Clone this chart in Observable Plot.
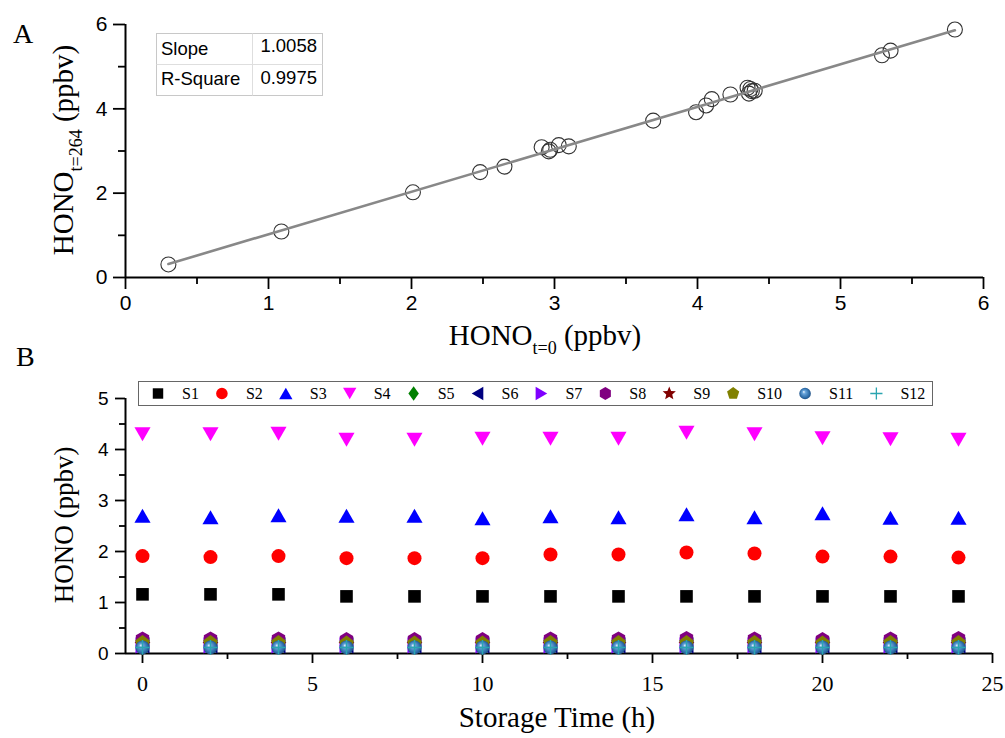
<!DOCTYPE html>
<html><head><meta charset="utf-8">
<script src="https://cdn.jsdelivr.net/npm/d3@7"></script>
<script src="https://cdn.jsdelivr.net/npm/@observablehq/plot@0.6"></script>
<style>
body{margin:0;background:#fff;}
#fig{position:relative;width:1005px;height:738px;overflow:hidden;background:#fff;}
#fig > svg{position:absolute;left:0;}
</style></head>
<body>
<svg width="0" height="0" style="position:absolute">
  <defs>
    <radialGradient id="sph" cx="0.5" cy="0.5" r="0.55" fx="0.38" fy="0.35">
      <stop offset="0" stop-color="#f2f8ff"/>
      <stop offset="0.25" stop-color="#6aa6dc"/>
      <stop offset="0.75" stop-color="#2b6aa6"/>
      <stop offset="1" stop-color="#1c4677"/>
    </radialGradient>
  </defs>
</svg>
<div id="fig"></div>
<script>
// ---------- Panel A data ----------
const hono0   = [0.30, 1.09, 2.01, 2.48, 2.65, 2.91, 2.96, 2.97, 3.03, 3.10, 3.69, 3.99, 4.06, 4.10, 4.23, 4.35, 4.37, 4.38, 4.36, 4.40, 5.29, 5.35, 5.80];
const hono264 = [0.31, 1.09, 2.02, 2.50, 2.63, 3.09, 2.99, 3.03, 3.14, 3.11, 3.72, 3.92, 4.08, 4.23, 4.34, 4.50, 4.47, 4.42, 4.36, 4.43, 5.27, 5.38, 5.88];
const fitLabels = ["Slope", "R-Square"];
const fitValues = ["1.0058", "0.9975"];

// ---------- Panel B data ----------
const time = [0, 2, 4, 6, 8, 10, 12, 14, 16, 18, 20, 22, 24];
const seriesNames = ["S1","S2","S3","S4","S5","S6","S7","S8","S9","S10","S11","S12"];
const s1  = [1.16, 1.16, 1.16, 1.12, 1.12, 1.12, 1.12, 1.12, 1.12, 1.12, 1.12, 1.12, 1.12];
const s2  = [1.91, 1.89, 1.91, 1.87, 1.87, 1.87, 1.94, 1.94, 1.98, 1.96, 1.90, 1.90, 1.88];
const s3  = [2.70, 2.67, 2.71, 2.70, 2.70, 2.65, 2.69, 2.67, 2.73, 2.67, 2.75, 2.66, 2.66];
const s4  = [4.30, 4.30, 4.31, 4.19, 4.19, 4.21, 4.21, 4.21, 4.33, 4.30, 4.22, 4.20, 4.19];
const s5  = [0.16, 0.16, 0.16, 0.16, 0.16, 0.16, 0.16, 0.16, 0.16, 0.16, 0.16, 0.16, 0.16];
const s6  = [0.16, 0.16, 0.16, 0.16, 0.16, 0.16, 0.16, 0.16, 0.16, 0.16, 0.16, 0.16, 0.16];
const s7  = [0.16, 0.16, 0.16, 0.16, 0.16, 0.16, 0.16, 0.16, 0.16, 0.16, 0.16, 0.16, 0.16];
const s8  = [0.28, 0.28, 0.28, 0.27, 0.27, 0.27, 0.28, 0.28, 0.29, 0.28, 0.27, 0.28, 0.29];
const s9  = [0.17, 0.17, 0.17, 0.17, 0.17, 0.17, 0.17, 0.17, 0.17, 0.17, 0.17, 0.17, 0.17];
const s10 = [0.21, 0.21, 0.21, 0.20, 0.20, 0.20, 0.21, 0.21, 0.21, 0.21, 0.20, 0.21, 0.21];
const s11 = [0.12, 0.12, 0.12, 0.12, 0.12, 0.12, 0.12, 0.12, 0.12, 0.12, 0.12, 0.12, 0.12];
const s12 = [0.12, 0.12, 0.12, 0.12, 0.12, 0.12, 0.12, 0.12, 0.12, 0.12, 0.12, 0.12, 0.12];
const seriesValues = [s1, s2, s3, s4, s5, s6, s7, s8, s9, s10, s11, s12];

// ---------- styles ----------
const SERIF = "'Liberation Serif','Times New Roman',serif";
const SANS = "'Liberation Sans',Arial,sans-serif";

function poly(ctx, pts) { ctx.moveTo(pts[0][0], pts[0][1]); for (let i = 1; i < pts.length; i++) ctx.lineTo(pts[i][0], pts[i][1]); ctx.closePath(); }
function mk(fn) { return { draw(ctx, size) { const r = Math.sqrt(size / Math.PI); fn(ctx, r); } }; }
function ngon(n, R, rot) { return d3.range(n).map(i => { const a = rot + i * 2 * Math.PI / n; return [R * Math.sin(a), -R * Math.cos(a)]; }); }
const shapes = {
  square: mk((c, r) => { const h = 0.9 * r; poly(c, [[-h,-h],[h,-h],[h,h],[-h,h]]); }),
  circle: mk((c, r) => { c.moveTo(r, 0); c.arc(0, 0, r, 0, 2 * Math.PI); c.closePath(); }),
  triUp: mk((c, r) => poly(c, [[0,-r],[1.15*r,r],[-1.15*r,r]])),
  triDown: mk((c, r) => poly(c, [[0,r],[1.15*r,-r],[-1.15*r,-r]])),
  diamond: mk((c, r) => poly(c, [[0,-1.25*r],[0.9*r,0],[0,1.25*r],[-0.9*r,0]])),
  triLeft: mk((c, r) => poly(c, [[-r,0],[r,-1.15*r],[r,1.15*r]])),
  triRight: mk((c, r) => poly(c, [[r,0],[-r,-1.15*r],[-r,1.15*r]])),
  hexagon: mk((c, r) => poly(c, ngon(6, 1.1 * r, 0))),
  star: mk((c, r) => { const R = 1.2 * r, q = 0.45 * R; poly(c, d3.range(10).map(i => { const a = i * Math.PI / 5; const rr = i % 2 ? q : R; return [rr * Math.sin(a), -rr * Math.cos(a)]; })); }),
  pentagon: mk((c, r) => poly(c, ngon(5, 1.1 * r, 0))),
  plus: mk((c, r) => { const h = 1.05 * r; c.moveTo(-h, 0); c.lineTo(h, 0); c.moveTo(0, -h); c.lineTo(0, h); })
};
const seriesStyle = [
  {shape: "square", fill: "#000000"},
  {shape: "circle", fill: "#ff0000"},
  {shape: "triUp", fill: "#0000ff"},
  {shape: "triDown", fill: "#ff00ff"},
  {shape: "diamond", fill: "#008000"},
  {shape: "triLeft", fill: "#000080"},
  {shape: "triRight", fill: "#8000ff"},
  {shape: "hexagon", fill: "#800080"},
  {shape: "star", fill: "#800000"},
  {shape: "pentagon", fill: "#808000"},
  {shape: "circle", fill: "url(#sph)"},
  {shape: "plus", fill: "none", stroke: "#2aa5b0"}
];

const fig = document.getElementById("fig");

// ---------- Panel A ----------
const ptsA = hono0.map((x, i) => ({x, y: hono264[i]}));
const plotA = Plot.plot({
  width: 1005, height: 320,
  marginLeft: 125, marginRight: 22, marginTop: 24, marginBottom: 43,
  x: {domain: [0, 6]}, y: {domain: [0, 6]},
  style: {background: "transparent", overflow: "visible", color: "black"},
  marks: [
    Plot.axisX({ticks: d3.range(0, 7), tickSize: 12, tickPadding: 6, fontSize: 21, fontFamily: SANS, label: null, strokeWidth: 1.8, tickFormat: d => d}),
    Plot.axisX({ticks: d3.range(0.5, 6, 1), tickSize: 7, label: null, strokeWidth: 1.8, tickFormat: () => ""}),
    Plot.axisY({ticks: [0, 2, 4, 6], tickSize: 12, tickPadding: 6, fontSize: 21, fontFamily: SANS, label: null, strokeWidth: 1.8, tickFormat: d => d}),
    Plot.axisY({ticks: [1, 3, 5], tickSize: 7, label: null, strokeWidth: 1.8, tickFormat: () => ""}),
    Plot.ruleY([0], {strokeWidth: 2}),
    Plot.ruleX([0], {strokeWidth: 2}),
    Plot.dot(ptsA, {x: "x", y: "y", r: 7.5, stroke: "#333", strokeWidth: 1.1, fill: "none"}),
    Plot.linearRegressionY(ptsA, {x: "x", y: "y", ci: 0, stroke: "#888", strokeWidth: 2.6})
  ]
});
plotA.style.top = "0px";
fig.appendChild(plotA);

// ---------- Panel B ----------
const marksB = seriesValues.map((vals, k) => {
  const st = seriesStyle[k];
  const rows = time.map((t, i) => ({t, v: vals[i]}));
  return Plot.dot(rows, {
    x: "t", y: "v", r: 7, symbol: shapes[st.shape],
    fill: st.fill, stroke: st.stroke || "none", strokeWidth: st.stroke ? 1.5 : 0
  });
});
const plotB = Plot.plot({
  width: 1005, height: 378,
  marginLeft: 125, marginRight: 13, marginTop: 38, marginBottom: 85,
  x: {domain: [-0.5, 25]}, y: {domain: [0, 5]},
  style: {background: "transparent", overflow: "visible", color: "black"},
  marks: [
    Plot.axisX({ticks: d3.range(0, 26, 5), tickSize: 10, tickPadding: 12, fontSize: 22, fontFamily: SERIF, label: null, strokeWidth: 1.8, tickFormat: d => d}),
    Plot.axisX({ticks: d3.range(2.5, 25, 5), tickSize: 6, label: null, strokeWidth: 1.8, tickFormat: () => ""}),
    Plot.axisY({ticks: d3.range(0, 6), tickSize: 10, tickPadding: 7, fontSize: 19, fontFamily: SANS, label: null, strokeWidth: 1.8, tickFormat: d => d}),
    Plot.axisY({ticks: d3.range(0.5, 5, 1), tickSize: 6, label: null, strokeWidth: 1.8, tickFormat: () => ""}),
    Plot.ruleY([0], {strokeWidth: 2}),
    Plot.ruleX([-0.5], {strokeWidth: 2}),
    ...marksB
  ]
});
plotB.style.top = "360px";
fig.appendChild(plotB);

// ---------- overlay: panel letters, axis titles, fit table, legend ----------
const ov = d3.select(fig).append("svg")
  .attr("width", 1005).attr("height", 738)
  .style("top", "0px").style("pointer-events", "none")
  .attr("font-family", SERIF).attr("fill", "#000");

ov.append("text").attr("x", 13).attr("y", 43).attr("font-size", 28).text("A");
ov.append("text").attr("x", 16).attr("y", 366).attr("font-size", 28).text("B");

function subLabel(g, main, sub, rest, size, subSize) {
  const t = g.append("text").attr("font-size", size).attr("text-anchor", "middle").attr("fill", "#000");
  t.append("tspan").text(main);
  t.append("tspan").attr("font-size", subSize).attr("dy", 9).text(sub);
  t.append("tspan").attr("dy", -9).text(rest);
  return t;
}
subLabel(ov.append("g").attr("transform", "translate(545,345)"), "HONO", "t=0", " (ppbv)", 29, 18);
subLabel(ov.append("g").attr("transform", "translate(73,150) rotate(-90)"), "HONO", "t=264", " (ppbv)", 29, 18);
ov.append("text").attr("transform", "translate(73,525) rotate(-90)").attr("text-anchor", "middle")
  .attr("font-size", 27).text("HONO (ppbv)");
ov.append("text").attr("x", 557).attr("y", 727).attr("text-anchor", "middle")
  .attr("font-size", 29).text("Storage Time (h)");

// fit table
const tb = ov.append("g").attr("font-family", SANS).attr("font-size", 18.5);
tb.append("rect").attr("x", 156.5).attr("y", 33.5).attr("width", 166).attr("height", 62)
  .attr("fill", "white").attr("stroke", "#c8c8c8");
tb.append("line").attr("x1", 252.5).attr("x2", 252.5).attr("y1", 33.5).attr("y2", 95.5).attr("stroke", "#dedede");
tb.append("line").attr("x1", 156.5).attr("x2", 322.5).attr("y1", 64.5).attr("y2", 64.5).attr("stroke", "#dedede");
fitLabels.forEach((l, i) => {
  tb.append("text").attr("x", 161).attr("y", 54.5 + i * 30.5).text(l);
  tb.append("text").attr("x", 317).attr("y", 52 + i * 31.5).attr("text-anchor", "end").text(fitValues[i]);
});

// legend
const lg = ov.append("g");
lg.append("rect").attr("x", 138.5).attr("y", 381.5).attr("width", 794).attr("height", 24)
  .attr("fill", "white").attr("stroke", "#666").attr("stroke-width", 1);
let cx = 158;
seriesNames.forEach((name, k) => {
  const st = seriesStyle[k];
  const sym = shapes[st.shape];
  lg.append("path")
    .attr("transform", `translate(${cx},393.5)`)
    .attr("d", d3.symbol(sym, 5.8 * 5.8 * Math.PI)())
    .attr("fill", st.fill).attr("stroke", st.stroke || "none").attr("stroke-width", st.stroke ? 1.3 : 0);
  const tx = lg.append("text").attr("x", cx + 24).attr("y", 399).attr("font-size", 16).text(name);
  const w = tx.node().getComputedTextLength();
  cx = cx + 24 + w + 23;
});
</script>
</body></html>
